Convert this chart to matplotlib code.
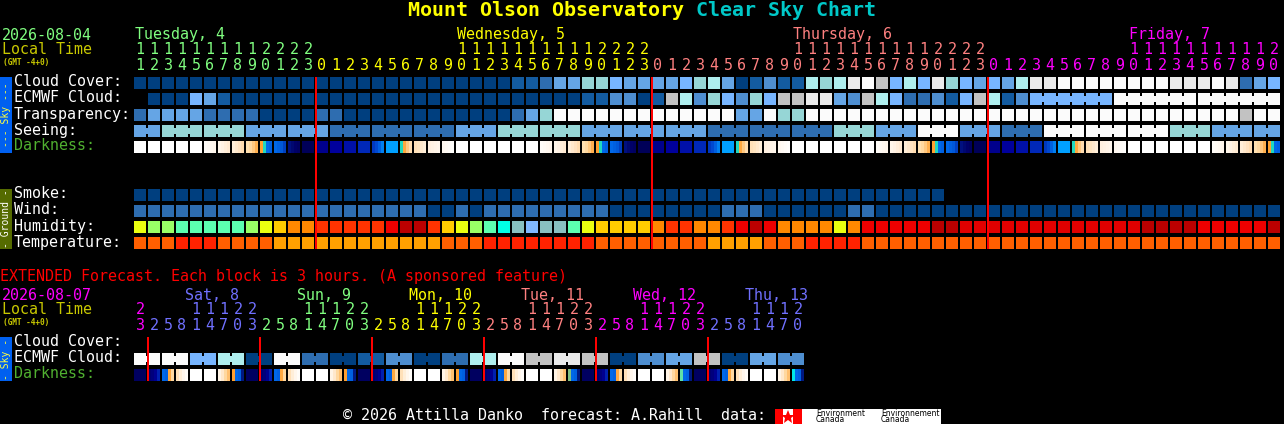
import matplotlib
matplotlib.use("Agg")
import matplotlib.pyplot as plt

# sky colours, clear (0) to overcast (10)
sky_colors = ["#003f7f", "#135ba0", "#2e6db0", "#4e8ed0", "#65a5e5", "#77b5ff",
              "#96d6d6", "#aeeeee", "#c2c2c2", "#eaeaea", "#fbfbfb"]
humidity_colors = ["#80b8ff", "#88c0c0", "#00ffe5", "#5cffb0", "#99ff66", "#eaff10",
                   "#ffcc00", "#ff8800", "#ff3300", "#ee0000", "#e00000", "#bb0000"]
temp_colors = ["#ffa000", "#ff5f00", "#ff2200"]

# hourly forecast, 82 blocks from 11h on Tuesday
hours = list(range(11, 24)) + list(range(24)) + list(range(24)) + list(range(21))
day_lengths = [13, 24, 24, 21]
day_names = ["Tuesday, 4", "Wednesday, 5", "Thursday, 6", "Friday, 7"]
day_colors = ["#80ff80", "#ffff00", "#ff8080", "#ff00ff"]

cloud = [0] * 27 + [1, 1, 2, 4, 4, 6, 6, 5, 4, 4, 4, 4, 5, 6, 7, 4, 0, 1, 3, 1, 1, 7, 6, 7, 9,
         10, 8, 5, 7, 5, 9, 6, 5, 4, 5, 4, 7, 9, 9, 10, 10, 10, 10, 10, 10, 10, 10, 9, 9, 9, 10, 9, 2, 4, 5]
ecmwf = [None, 0, 0, 0, 5, 4, 1] + [0] * 25 + [1, 1, 3, 3, 0, 1, 8, 7, 3, 6, 5, 3, 6, 5, 8, 8, 9, 9, 4, 3,
         8, 7, 5, 2, 2, 3, 1, 5, 8, 7, 1, 3, 5, 5, 5, 5, 5, 5] + [10] * 12
ecmwf_runs = [1] * 64 + [6, 6, 6]
transparency = [2, 4, 4, 4, 4, 2, 2, 2, 2, 0, 0, 0, 0, 2, 2] + [0] * 12 + [2, 4, 6] + [10] * 13 + \
               [4, 4, 10, 6, 6] + [10] * 31 + [8, 10, 10]
seeing = [4, 4] + [6] * 6 + [4] * 6 + [2] * 9 + [4] * 3 + [6] * 6 + [4] * 9 + [2] * 9 + [6] * 3 + \
         [4] * 3 + [10] * 3 + [4] * 3 + [2] * 3 + [10] * 9 + [6] * 3 + [4] * 5
seeing_runs = [2] + [3] * 26 + [2]
smoke = [0] * 58 + [None] * 24
wind = [2] * 21 + [0, 0, 2, 0] + [2] * 9 + [0] * 8 + [2, 2, 2] + [0] * 6 + [2, 2] + [0] * 29
humidity = [5, 4, 4, 3, 3, 3, 3, 3, 4, 5, 6, 7, 7, 8, 8, 8, 8, 8, 9, 11, 11, 8, 6, 5, 4, 3, 2, 1, 0, 1, 1, 3,
            5, 6, 6, 6, 6, 7, 8, 8, 7, 7, 8, 9, 11, 9, 7, 7, 7, 7, 5, 7,
            9, 9, 9, 9, 9, 11, 11] + [10] * 13 + [11] * 4 + [9] * 5 + [11]
temperature = [1, 1, 1, 2, 2, 2, 1, 1, 1, 1] + [0] * 12 + [1, 1, 1, 2, 2, 2, 2, 2, 2, 2, 2] + [1] * 8 + \
              [0] * 4 + [1, 1, 1, 2, 2, 2, 2] + [1] * 30

# darkness read by hour of day, four samples across each block
darkness_by_hour = {
    0: ["#00008c"] * 4, 1: ["#00009c"] * 4, 2: ["#0010a8"] * 4, 3: ["#0028b8"] * 4,
    4: ["#0038c0", "#0048d0", "#0060e0", "#0080f0"], 5: ["#00a0ff"] * 4,
    6: ["#20d8c0", "#ffa840", "#ffc880", "#ffdcae"],
    7: ["#ffe0b8", "#ffe4c0", "#ffe8cc", "#ffeed8"], 8: ["#fff0e0", "#fff2e4", "#fff4e8", "#fff6ec"],
    9: ["#fff8f0", "#fffaf4", "#fffcf8", "#fffefc"],
    10: ["#ffffff"] * 4, 11: ["#ffffff"] * 4, 12: ["#ffffff"] * 4, 13: ["#ffffff"] * 4,
    14: ["#ffffff"] * 4, 15: ["#ffffff"] * 4,
    16: ["#fffcf8", "#fffaf4", "#fff8f0", "#fff6ec"], 17: ["#fff6ea", "#fff2e4", "#ffeeda", "#ffead2"],
    18: ["#ffeed8", "#ffe8cc", "#ffe2c0", "#ffdcb0"], 19: ["#ffe0b0", "#ffd8a0", "#ffc880", "#ffb050"],
    20: ["#ffa030", "#20d8c0", "#0068e8", "#0060e0"], 21: ["#0068e8", "#0060e0", "#0058d8", "#0040c0"],
    22: ["#00107f", "#000870", "#000068", "#000060"], 23: ["#000058"] * 4,
}
darkness_ext_by_hour = {
    23: ["#000060"] * 4, 2: ["#000070", "#00007c", "#000090", "#0020b0"],
    5: ["#0068e8", "#0060e0", "#ffa840", "#ffd8a0"], 8: ["#ffe0b8", "#ffeed8", "#fff6ec", "#fffcf8"],
    11: ["#ffffff"] * 4, 14: ["#ffffff"] * 4,
    17: ["#fff4e6", "#ffe8cc", "#ffd8a0", "#ffc070"], 20: ["#ffa030", "#0068e8", "#0060e0", "#001880"],
}
ext_twilight = ["#ffa030", "#ffa030", "#ffa030", "#80c080", "#60e0a8", "#00e8e8"]

# extended forecast, 48 blocks of 3 hours
ext_hours = [23] + [2, 5, 8, 11, 14, 17, 20, 23] * 5 + [2, 5, 8, 11, 14, 17, 20]
ext_day_lengths = [1, 8, 8, 8, 8, 8, 7]
ext_day_names = [None, "Sat, 8", "Sun, 9", "Mon, 10", "Tue, 11", "Wed, 12", "Thu, 13"]
ext_day_colors = ["#ff00ff", "#7070ff", "#80ff80", "#ffff00", "#ff8080", "#ff00ff", "#7070ff"]
ext_ecmwf_pairs = [10, 10, 5, 7, 0, 10, 2, 0, 1, 3, 0, 2, 7, 10, 8, 9, 8, 0, 3, 4, 8, 0, 4, 3]

X0 = 134
PITCH = 14
BLOCK = 12
MONO = "DejaVu Sans Mono"
FS = 10.8

fig = plt.figure(figsize=(12.84, 4.24), dpi=100, facecolor="black")
ax = fig.add_axes([0, 0, 1, 1])
ax.set_xlim(0, 1284)
ax.set_ylim(424, 0)
ax.axis("off")


def put(x, y, s, color="white", size=FS, **kw):
    kw.setdefault("family", MONO)
    ax.text(x, y, s, color=color, fontsize=size, ha=kw.pop("ha", "left"), va="center", **kw)


def draw_row(values, colors, y, runs=None):
    # runs = how many blocks sit joined together, notched between them
    if runs is None:
        runs = [1] * len(values)
    start = 0
    for run in runs:
        for i in range(start, start + run):
            if values[i] is None:
                continue
            c = colors[values[i]]
            ax.bar(X0 + i * PITCH, BLOCK, BLOCK, bottom=y, align="edge", color=c, linewidth=0)
            if i < start + run - 1:
                ax.bar(X0 + i * PITCH + BLOCK, 6, PITCH - BLOCK, bottom=y + 3, align="edge", color=c, linewidth=0)
        start += run


def draw_darkness(samples_per_block, y):
    for i, samples in enumerate(samples_per_block):
        step = BLOCK / len(samples)
        for j, c in enumerate(samples):
            ax.bar(X0 + i * PITCH + j * step, BLOCK, step, bottom=y, align="edge", color=c, linewidth=0)


def draw_hours(hour_list, lengths, colors, y_tens, y_units):
    i = 0
    for length, c in zip(lengths, colors):
        for h in hour_list[i:i + length]:
            x = X0 + i * PITCH + BLOCK / 2
            if h >= 10:
                put(x, y_tens, str(h // 10), c, ha="center")
            put(x, y_units, str(h % 10), c, ha="center")
            i += 1


def draw_lines(indices, y0, y1):
    for i in indices:
        ax.bar(X0 + i * PITCH - 1, y1 - y0, 2, bottom=y0, align="edge", color="#ff0000", linewidth=0, zorder=5)


# title
put(408, 11, "Mount Olson Observatory", "#ffff00", 14.4, fontweight="bold")
put(696, 11, "Clear Sky Chart", "#00c8c8", 14.4, fontweight="bold")

# hourly header
put(2, 35, "2026-08-04", "#80ff80")
put(2, 50, "Local Time", "#c8c800")
put(3, 62, "(GMT -4+0)", "#c8c800", 5.6, fontweight="bold")
day_x = [135, 457, 793, 1129]
for x, name, c in zip(day_x, day_names, day_colors):
    put(x, 35, name, c)
draw_hours(hours, day_lengths, day_colors, 50, 65)

# hourly rows
for y, label, c in [(83, "Cloud Cover:", "white"), (99, "ECMWF Cloud:", "white"), (115, "Transparency:", "white"),
                    (131, "Seeing:", "white"), (147, "Darkness:", "#50b030"), (195, "Smoke:", "white"),
                    (211, "Wind:", "white"), (227, "Humidity:", "white"), (243, "Temperature:", "white")]:
    put(14, y - 1, label, c)
draw_row(cloud, sky_colors, 77)
draw_row(ecmwf, sky_colors, 93, ecmwf_runs)
draw_row(transparency, sky_colors, 109)
draw_row(seeing, sky_colors, 125, seeing_runs)
draw_darkness([darkness_by_hour[h] for h in hours], 141)
draw_row(smoke, sky_colors, 189)
draw_row(wind, sky_colors, 205)
draw_row(humidity, humidity_colors, 221)
draw_row(temperature, temp_colors, 237)

# side tabs
ax.bar(0, 76, 12, bottom=77, align="edge", color="#0060f0", linewidth=0)
ax.bar(0, 60, 12, bottom=189, align="edge", color="#556b00", linewidth=0)
put(6, 115, "--- Sky ---", "#ffff40", 7, ha="center", rotation=90)
put(6, 219, "- Ground -", "white", 7, ha="center", rotation=90)

# midnight lines
draw_lines([i for i, h in enumerate(hours) if h == 0], 77, 249)

# extended forecast
put(0, 277, "EXTENDED Forecast. Each block is 3 hours. (A sponsored feature)", "#ff0000")
put(2, 295, "2026-08-07", "#ff00ff")
put(2, 310, "Local Time", "#c8c800")
put(3, 322, "(GMT -4+0)", "#c8c800", 5.6, fontweight="bold")
ext_day_x = [None, 185, 297, 409, 521, 633, 745]
for x, name, c in zip(ext_day_x, ext_day_names, ext_day_colors):
    if name:
        put(x, 295, name, c)
draw_hours(ext_hours, ext_day_lengths, ext_day_colors, 310, 325)

put(14, 341, "Cloud Cover:")
put(14, 357, "ECMWF Cloud:")
put(14, 373, "Darkness:", "#50b030")
draw_row([v for v in ext_ecmwf_pairs for _ in range(2)], sky_colors, 353, [2] * 24)

ext_dark = [list(darkness_ext_by_hour[h]) for h in ext_hours]
ext_20h = [i for i, h in enumerate(ext_hours) if h == 20]
for i, c in zip(ext_20h, ext_twilight):
    ext_dark[i][0] = c
draw_darkness(ext_dark, 369)

ax.bar(0, 44, 12, bottom=337, align="edge", color="#0060f0", linewidth=0)
put(6, 359, "- Sky -", "#ffff40", 7, ha="center", rotation=90)

draw_lines([i for i, h in enumerate(ext_hours) if h == 2], 337, 381)

# footer and logo
put(343, 416, "© 2026 Attilla Danko  forecast: A.Rahill  data:")
ax.bar(775, 15, 27, bottom=409, align="edge", color="#ff0000", linewidth=0)
ax.bar(783, 15, 158, bottom=409, align="edge", color="white", linewidth=0)
ax.bar(793, 15, 9, bottom=409, align="edge", color="#ff0000", linewidth=0)
ax.plot([788], [416.5], marker="*", color="#ff0000", markersize=10, markeredgewidth=0)
for x, word in [(816, "Environment"), (881, "Environnement")]:
    put(x, 413, word, "black", 5.5, family="DejaVu Sans")
    put(x, 420, "Canada", "black", 5.5, family="DejaVu Sans")

fig.savefig("out.png", dpi=100, facecolor="black")
